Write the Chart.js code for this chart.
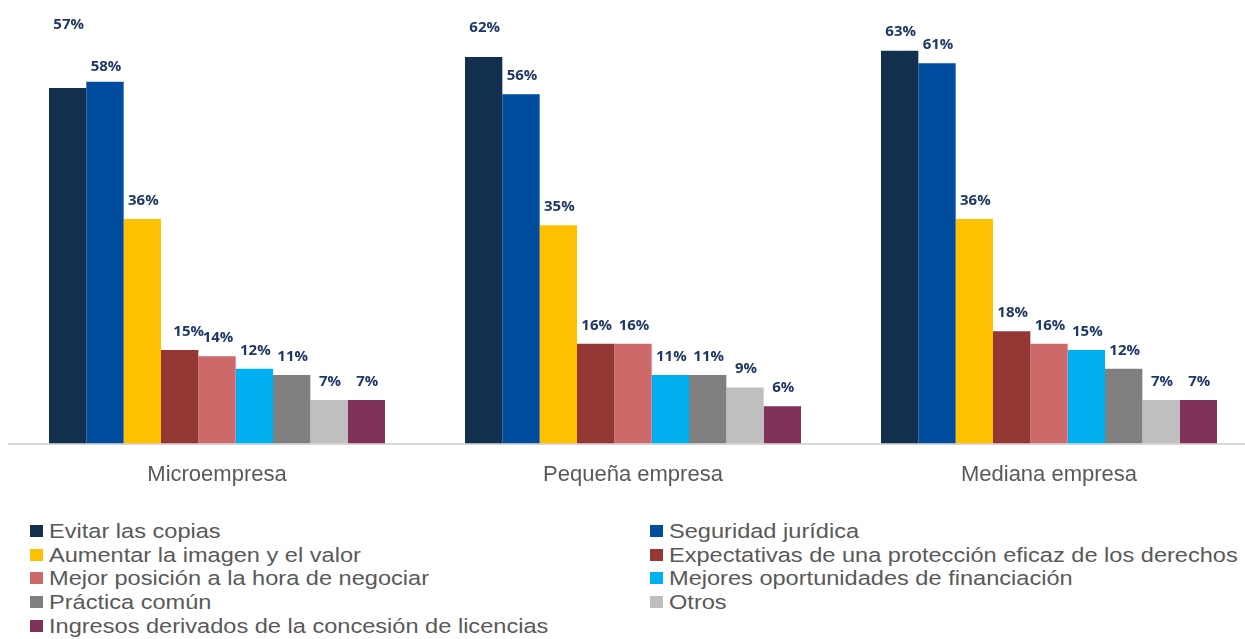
<!DOCTYPE html>
<html>
<head>
<meta charset="utf-8">
<script src="https://cdn.jsdelivr.net/npm/chart.js@4.4.1/dist/chart.umd.min.js"></script>
<style>
  html, body { margin: 0; padding: 0; background: #ffffff; overflow: hidden; width: 1245px; height: 639px; }
  #wrap { position: absolute; left: 0; top: 0; width: 1262px; height: 510px; }
  #legend { position: absolute; left: 30px; top: 519px; width: 1240px; display: grid;
            grid-template-columns: 620px 620px; grid-auto-rows: 23.7px; }
  .item { display: flex; align-items: center; height: 23.7px; white-space: nowrap; }
  .sw { width: 13px; height: 12px; flex: 0 0 auto; margin-right: 6px; }
  .tx { font-family: "Liberation Sans", Arial, sans-serif; font-size: 20.5px; line-height: 23.7px;
        color: #595959; display: inline-block; transform: scaleX(1.15); transform-origin: left center; }
</style>
</head>
<body>
<div id="wrap"><canvas id="c" width="1262" height="510"></canvas></div>
<div id="legend"></div>
<script>
// ---- data ----
const categories = ['Microempresa', 'Pequeña empresa', 'Mediana empresa'];
const seriesNames = [
  'Evitar las copias',
  'Seguridad jurídica',
  'Aumentar la imagen y el valor',
  'Expectativas de una protección eficaz de los derechos',
  'Mejor posición a la hora de negociar',
  'Mejores oportunidades de financiación',
  'Práctica común',
  'Otros',
  'Ingresos derivados de la concesión de licencias'
];
const evitarCopias        = [57, 62, 63];
const seguridadJuridica   = [58, 56, 61];
const aumentarImagen      = [36, 35, 36];
const expectativas        = [15, 16, 18];
const mejorPosicion       = [14, 16, 16];
const mejoresFinanciacion = [12, 11, 15];
const practicaComun       = [11, 11, 12];
const otros               = [7, 9, 7];
const ingresosLicencias   = [7, 6, 7];

const seriesValues = [evitarCopias, seguridadJuridica, aumentarImagen, expectativas,
  mejorPosicion, mejoresFinanciacion, practicaComun, otros, ingresosLicencias];
const seriesColors = ['#12304e', '#004c9f', '#ffc000', '#953735', '#cd6969',
  '#00b0f0', '#7f7f7f', '#bfbfbf', '#7f3159'];

// label placement tweaks (style, keyed "dataset-category")
const labelLift = { '0-0': 45, '0-1': 11, '1-0': -3 };
const labelShift = { '3-0': 8 };

const valueLabels = {
  id: 'valueLabels',
  afterDatasetsDraw(chart) {
    const ctx = chart.ctx;
    ctx.save();
    ctx.font = "bold 15px 'Open Sans', 'DejaVu Sans', sans-serif";
    ctx.fillStyle = '#1f3864';
    ctx.textAlign = 'center';
    ctx.textBaseline = 'middle';
    chart.data.datasets.forEach((ds, di) => {
      const meta = chart.getDatasetMeta(di);
      meta.data.forEach((el, ci) => {
        const key = di + '-' + ci;
        const lift = labelLift[key] || 0;
        const dx = labelShift[key] || 0;
        ctx.fillText(ds.data[ci] + '%', el.x + 1 + dx, el.y - 18.5 - lift);
      });
    });
    ctx.restore();
  }
};

const chart = new Chart(document.getElementById('c'), {
  type: 'bar',
  data: {
    labels: categories,
    datasets: seriesNames.map((name, i) => ({
      label: name,
      data: seriesValues[i],
      backgroundColor: seriesColors[i],
      borderWidth: 0,
      barPercentage: 1.0,
      categoryPercentage: 0.8077
    }))
  },
  options: {
    responsive: false,
    animation: false,
    layout: { padding: { top: 7, left: 9, right: 5, bottom: 4 } },
    plugins: { legend: { display: false }, tooltip: { enabled: false } },
    scales: {
      x: {
        offset: true,
        grid: { display: false, drawTicks: false },
        border: { display: true, color: '#d9d9d9', width: 2 },
        ticks: {
          color: '#595959',
          padding: 18,
          font: { family: "'Liberation Sans', Arial, sans-serif", size: 22 }
        }
      },
      y: { display: false, min: 0, max: 70 }
    }
  },
  plugins: [valueLabels]
});

// HTML legend from datasets
const lg = document.getElementById('legend');
chart.data.datasets.forEach(ds => {
  const it = document.createElement('div');
  it.className = 'item';
  const sw = document.createElement('span');
  sw.className = 'sw';
  sw.style.background = ds.backgroundColor;
  const tx = document.createElement('span');
  tx.className = 'tx';
  tx.textContent = ds.label;
  it.appendChild(sw); it.appendChild(tx);
  lg.appendChild(it);
});
</script>
</body>
</html>
